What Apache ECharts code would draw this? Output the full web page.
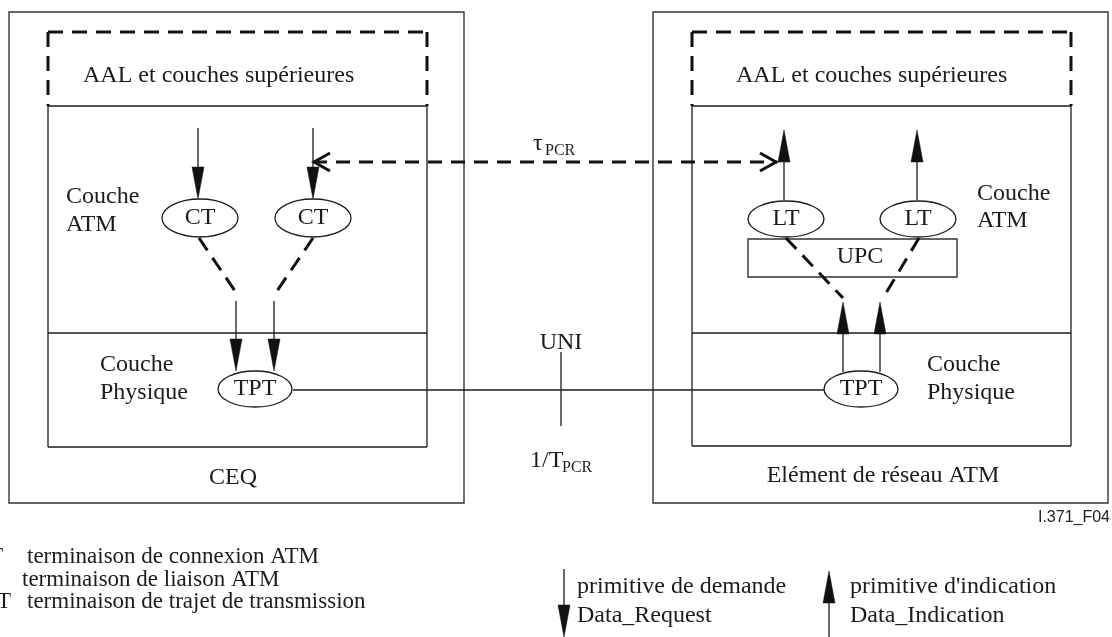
<!DOCTYPE html>
<html><head><meta charset="utf-8">
<script src="https://cdn.jsdelivr.net/npm/echarts@6.0.0/dist/echarts.min.js"></script>
<style>html,body{margin:0;padding:0;background:#fff}#c{width:1112px;height:637px}</style>
</head><body><div id="c"></div>
<script>
// ---- diagram data (diagram coordinates; y grows downwards) ----
const boxRects = [[9,12,464,503],[653,12,1108,503],[748,239,957,277]];
const solidLines = [
  [48,106,427,106],[48,106,48,447],[427,106,427,447],[48,447,427,447],[48,333,427,333],
  [692,106,1071,106],[692,106,692,446],[1071,106,1071,446],[692,446,1071,446],[692,333,1071,333],
  [293,390,824,390],[561,352,561,426]
];
const dashedLines = [
  [48,32,427,32],[48,32,48,106],[427,32,427,106],
  [692,32,1071,32],[692,32,692,106],[1071,32,1071,106],
  [199,238,235,291],[313,238,277,291],
  [786,238,843,298],[919,238,883,298]
];
const timingArrow = [[313,162,777,162]];
// x, tail y, tip y
const primitiveArrows = [
  [198,128,199],[313,128,199],[236,301,371],[274,301,371],
  [784,200,130],[917,200,130],[843,372,302],[880,372,302],
  [564,569,637],[829,637,571]
];
const ellipses = [[200,218,38,19],[313,218,38,19],[786,219,38,18],[918,219,38,18],[255,389,37,18],[861,389,37,18]];
const ellipseLabels = ['CT','CT','LT','LT','TPT','TPT'];
const diagramLabels = [
  [83,76,'AAL et couches supérieures'],[736,76,'AAL et couches supérieures'],
  [66,197,'Couche'],[66,225,'ATM'],[977,194,'Couche'],[977,221,'ATM'],
  [100,365,'Couche'],[100,393,'Physique'],[927,365,'Couche'],[927,393,'Physique'],
  [577,587,'primitive de demande'],[577,616,'Data_Request'],
  [850,587,'primitive d\'indication'],[850,616,'Data_Indication'],
  [533,144,'τ'],[530,461,'1/T']
];
const legendLabels = [
  [27,557,'terminaison de connexion ATM'],[22,580,'terminaison de liaison ATM'],[27,602,'terminaison de trajet de transmission']
];
const centerLabels = [[860,257,'UPC'],[233,478,'CEQ'],[883,476,'Elément de réseau ATM'],[561,343,'UNI']];
const rightLabels = [[3,557,'CT'],[-2,580,'LT'],[11,602,'TPT']];
const subscriptLabels = [[545,151,'PCR'],[562,468,'PCR']];
const figureCode = [[1110,518,'I.371_F04']];

// ---- rendering ----
const INK = '#1c1c1c';
const SERIF = '"Liberation Serif","Times New Roman",serif';

function segItem(style){
  return function(params, api){
    const a = api.coord([api.value(0), api.value(1)]);
    const b = api.coord([api.value(2), api.value(3)]);
    return {type:'line', shape:{x1:a[0],y1:a[1],x2:b[0],y2:b[1]}, style:Object.assign({fill:null}, style)};
  };
}
function rectItem(params, api){
  const a = api.coord([api.value(0), api.value(1)]);
  const b = api.coord([api.value(2), api.value(3)]);
  return {type:'rect', shape:{x:a[0], y:a[1], width:b[0]-a[0], height:b[1]-a[1]},
    style:{fill:null, stroke:'#333', lineWidth:1.4}};
}
function arrowItem(params, api){
  const x = api.value(0);
  const t = api.coord([x, api.value(1)]);
  const h = api.coord([x, api.value(2)]);
  const dir = Math.sign(h[1]-t[1]);
  const L = 32, hw = 6;
  const by = h[1] - dir*L;
  return {type:'group', children:[
    {type:'line', shape:{x1:t[0],y1:t[1],x2:t[0],y2:by}, style:{stroke:INK, lineWidth:1.3}},
    {type:'polygon', shape:{points:[[h[0],h[1]],[h[0]-hw,by],[h[0]+hw,by]]}, style:{fill:'#111', stroke:'#111', lineWidth:0.5}}
  ]};
}
function timingItem(params, api){
  const a = api.coord([api.value(0), api.value(1)]);
  const b = api.coord([api.value(2), api.value(3)]);
  const s = {stroke:'#111', lineWidth:3, fill:null};
  return {type:'group', children:[
    {type:'line', shape:{x1:a[0],y1:a[1],x2:b[0],y2:b[1]}, style:Object.assign({lineDash:[14,9]}, s)},
    {type:'polyline', shape:{points:[[a[0]+17,a[1]-9],[a[0]+1,a[1]],[a[0]+17,a[1]+9]]}, style:s},
    {type:'polyline', shape:{points:[[b[0]-17,b[1]-9],[b[0]-1,b[1]],[b[0]-17,b[1]+9]]}, style:s}
  ]};
}
function ellipseItem(params, api){
  const c = api.coord([api.value(0), api.value(1)]);
  const r = api.size([api.value(2), api.value(3)]);
  return {type:'group', children:[
    {type:'ellipse', shape:{cx:c[0], cy:c[1], rx:r[0], ry:r[1]}, style:{fill:'#fff', stroke:INK, lineWidth:1.3}},
    {type:'text', x:c[0], y:c[1], style:{text:ellipseLabels[params.dataIndex], font:'24px '+SERIF, fill:INK, align:'center', verticalAlign:'middle'}}
  ]};
}
function textItem(arr, font, align){
  return function(params, api){
    const p = api.coord([api.value(0), api.value(1)]);
    return {type:'text', x:p[0], y:p[1], style:{text:arr[params.dataIndex][2], font:font, fill:INK, align:align, verticalAlign:'middle'}};
  };
}
function xy(arr){ return arr.map(r => [r[0], r[1]]); }

const chart = echarts.init(document.getElementById('c'), null, {renderer:'canvas'});
chart.setOption({
  backgroundColor:'#fff',
  animation:false,
  grid:{left:0,right:0,top:0,bottom:0},
  xAxis:{type:'value', min:0, max:1112, show:false},
  yAxis:{type:'value', min:0, max:637, inverse:true, show:false},
  tooltip:{show:false},
  series:[
    {type:'custom', clip:false, silent:true, data:boxRects, encode:{x:[0,2], y:[1,3]}, renderItem:rectItem},
    {type:'custom', clip:false, silent:true, data:solidLines, encode:{x:[0,2], y:[1,3]}, renderItem:segItem({stroke:INK, lineWidth:1.3})},
    {type:'custom', clip:false, silent:true, data:dashedLines, encode:{x:[0,2], y:[1,3]}, renderItem:segItem({stroke:'#111', lineWidth:3, lineDash:[15,9]})},
    {type:'custom', clip:false, silent:true, data:timingArrow, encode:{x:[0,2], y:[1,3]}, renderItem:timingItem},
    {type:'custom', clip:false, silent:true, data:primitiveArrows, encode:{x:0, y:[1,2]}, renderItem:arrowItem},
    {type:'custom', clip:false, silent:true, data:ellipses, encode:{x:0, y:1}, renderItem:ellipseItem},
    {type:'custom', clip:false, silent:true, data:xy(diagramLabels), encode:{x:0, y:1}, renderItem:textItem(diagramLabels, '24px '+SERIF, 'left')},
    {type:'custom', clip:false, silent:true, data:xy(legendLabels), encode:{x:0, y:1}, renderItem:textItem(legendLabels, '23px '+SERIF, 'left')},
    {type:'custom', clip:false, silent:true, data:xy(centerLabels), encode:{x:0, y:1}, renderItem:textItem(centerLabels, '24px '+SERIF, 'center')},
    {type:'custom', clip:false, silent:true, data:xy(rightLabels), encode:{x:0, y:1}, renderItem:textItem(rightLabels, '23px '+SERIF, 'right')},
    {type:'custom', clip:false, silent:true, data:xy(subscriptLabels), encode:{x:0, y:1}, renderItem:textItem(subscriptLabels, '16px '+SERIF, 'left')},
    {type:'custom', clip:false, silent:true, data:xy(figureCode), encode:{x:0, y:1}, renderItem:textItem(figureCode, '16px "Liberation Sans",Arial,sans-serif', 'right')}
  ]
});
</script>
</body></html>
